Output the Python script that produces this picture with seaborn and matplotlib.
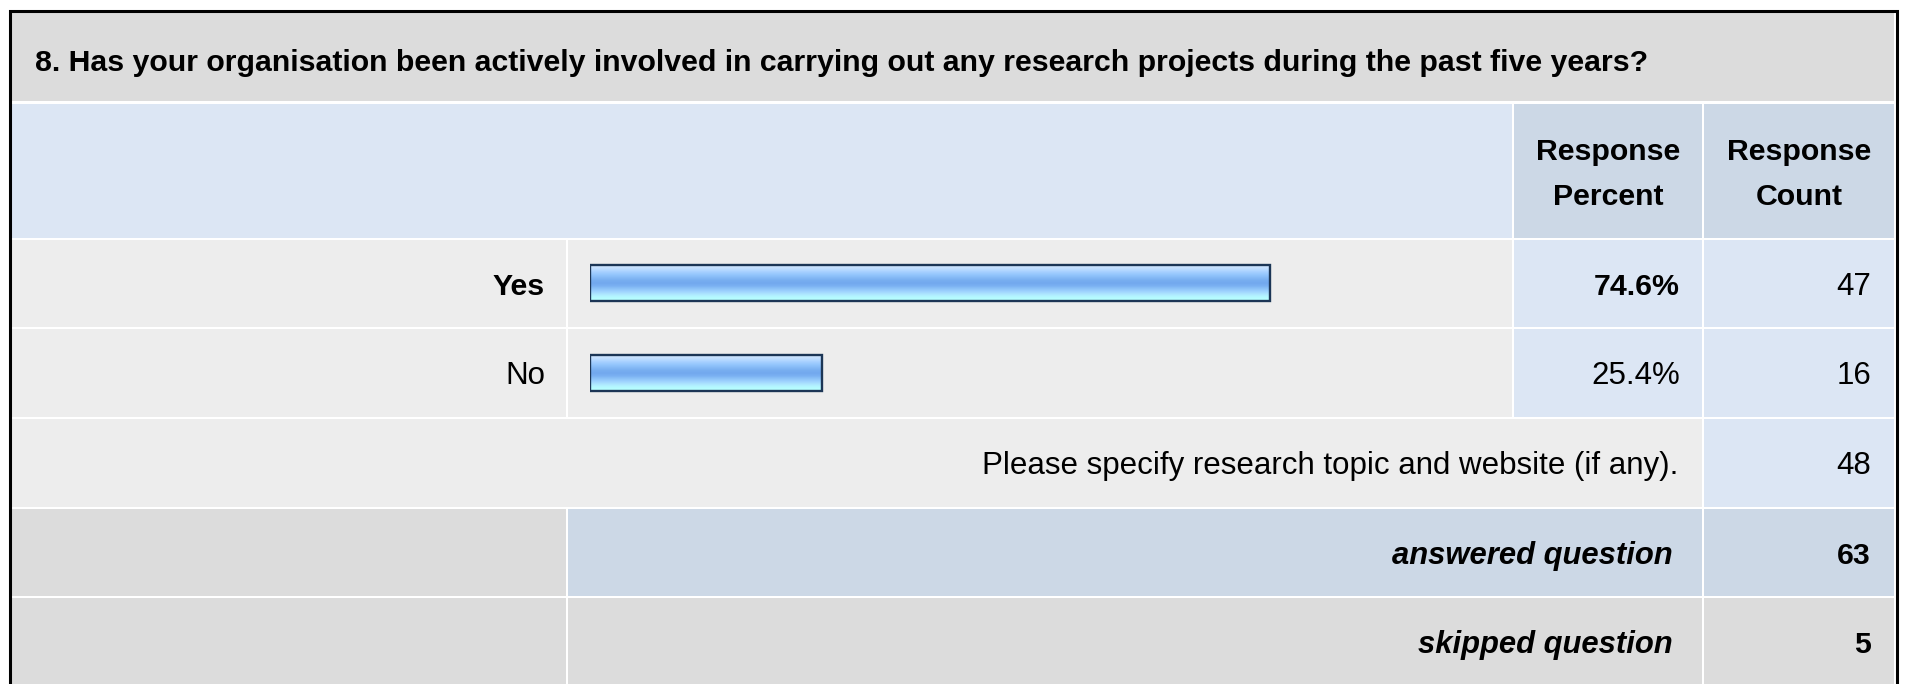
import numpy as np
import pandas as pd
import matplotlib.pyplot as plt
import seaborn as sns
from matplotlib.patches import Rectangle

# ── Data ───────────────────────────────────────────────────────────────────────
question = "8. Has your organisation been actively involved in carrying out any research projects during the past five years?"
header_labels = ["Response\nPercent", "Response\nCount"]
answer_labels = ["Yes", "No"]
answer_percent = [74.6, 25.4]
answer_count = [47, 16]
other_text = "Please specify research topic and website (if any)."
other_count = 48
summary_labels = ["answered question", "skipped question"]
summary_counts = [63, 5]

# ── Style ──────────────────────────────────────────────────────────────────────
sns.set_theme(style="white")
plt.rcParams['font.family'] = ['Liberation Sans', 'DejaVu Sans']
FS_B = 21.8    # bold text
FS_R = 22.5    # regular text
FS_I = 22.3    # bold italic summary text
W, H = 1911, 684

GRAY = '#dcdcdc'
LIGHT = '#ededed'
BLUE = '#dce6f4'
BLUE2 = '#ccd8e6'
INK = '#000000'

# column and row edges in pixels
cols = [(12, 566), (568, 1512), (1514, 1702), (1704, 1894)]
r_title, r_head = (12, 101), (104, 238)
r_ans = [(240, 327), (329, 417)]
r_other = (419, 507)
r_sum = [(509, 596), (598, 690)]

fig = plt.figure(figsize=(W / 100, H / 100), dpi=100)
ax = fig.add_axes([0, 0, 1, 1])
ax.set_xlim(0, W)
ax.set_ylim(H, 0)
ax.axis('off')


def cell(x0, x1, rows, color):
    ax.add_patch(Rectangle((x0, rows[0]), x1 - x0, rows[1] - rows[0], color=color, lw=0, zorder=1))


def base_of(rows):
    return rows[0] + 55


# ── Table cells ────────────────────────────────────────────────────────────────
cell(cols[0][0], cols[3][1], r_title, GRAY)
cell(cols[0][0], cols[1][1], r_head, BLUE)
cell(*cols[2], r_head, BLUE2)
cell(*cols[3], r_head, BLUE2)
for rows in r_ans:
    cell(*cols[0], rows, LIGHT)
    cell(*cols[1], rows, LIGHT)
    cell(*cols[2], rows, BLUE)
    cell(*cols[3], rows, BLUE)
cell(cols[0][0], cols[2][1], r_other, LIGHT)
cell(*cols[3], r_other, BLUE)
cell(*cols[0], r_sum[0], GRAY)
cell(cols[1][0], cols[2][1], r_sum[0], BLUE2)
cell(*cols[3], r_sum[0], BLUE2)
cell(*cols[0], r_sum[1], GRAY)
cell(cols[1][0], cols[2][1], r_sum[1], GRAY)
cell(*cols[3], r_sum[1], GRAY)

# outer border
ax.plot([9.5, 9.5, 1896.5, 1896.5], [H + 5, 10.5, 10.5, H + 5], color='black', lw=2.2, zorder=3,
        solid_joinstyle='miter')

# ── Texts ──────────────────────────────────────────────────────────────────────
ax.text(35, 71, question, fontsize=FS_B, fontweight='bold', color=INK, va='baseline', zorder=4)
for c, lab in zip(cols[2:], header_labels):
    for k, line in enumerate(lab.split('\n')):
        ax.text((c[0] + c[1]) / 2, 160 + 45 * k, line, fontsize=FS_B, fontweight='bold',
                ha='center', va='baseline', color=INK, zorder=4)

for i, rows in enumerate(r_ans):
    bold = answer_percent[i] == max(answer_percent)
    wt, fs = ('bold', FS_B) if bold else ('normal', FS_R)
    base = base_of(rows)
    ax.text(545, base, answer_labels[i], fontsize=fs, fontweight=wt, ha='right', va='baseline', color=INK, zorder=4)
    ax.text(1680, base, f"{answer_percent[i]:.1f}%", fontsize=fs, fontweight=wt, ha='right', va='baseline',
            color=INK, zorder=4)
    ax.text(1871, base, str(answer_count[i]), fontsize=FS_R, ha='right', va='baseline', color=INK, zorder=4)

base = base_of(r_other)
ax.text(1678, base, other_text, fontsize=FS_R, ha='right', va='baseline', color=INK, zorder=4)
ax.text(1871, base, str(other_count), fontsize=FS_R, ha='right', va='baseline', color=INK, zorder=4)

for rows, lab, n in zip(r_sum, summary_labels, summary_counts):
    base = base_of(rows)
    ax.text(1673, base, lab, fontsize=FS_I, fontweight='bold', style='italic', ha='right', va='baseline',
            color=INK, zorder=4)
    ax.text(1871, base, str(n), fontsize=FS_B, fontweight='bold', ha='right', va='baseline', color=INK, zorder=4)

# ── Bars ───────────────────────────────────────────────────────────────────────
bx0, bx1 = 590, 1502          # 0% .. 100%
by0, by1 = 238.5, 417.5       # band holding the two answer rows
bax = fig.add_axes([bx0 / W, 1 - by1 / H, (bx1 - bx0) / W, (by1 - by0) / H])
bax.patch.set_alpha(0)
df = pd.DataFrame({'answer': answer_labels, 'percent': answer_percent})
sns.barplot(data=df, x='percent', y='answer', orient='h', ax=bax, width=0.40,
            color='#8cc0f8', edgecolor='#1c3656', linewidth=1.7, saturation=1)
bax.set_xlim(0, 100)
bax.set_ylim(1.5, -0.5)
bax.axis('off')

stripes = ['#cfe6ff', '#bcdcff', '#a6d0ff', '#94c6fc', '#86baf6', '#78aef0', '#72a8ee',
           '#7ab0f2', '#8cc2f8', '#9ed2fe', '#aee6ff', '#b4f8ff', '#b8ffff']
grad = np.array([[plt.matplotlib.colors.to_rgb(c)] for c in stripes])
for p in bax.patches:
    x, y, w, h = p.get_x(), p.get_y(), p.get_width(), p.get_height()
    im = bax.imshow(grad, extent=(x, x + w, y + h, y), aspect='auto', interpolation='bilinear', zorder=2)
    im.set_clip_path(p)
    p.set_facecolor('none')
    p.set_zorder(3)
bax.set_xlim(0, 100)
bax.set_ylim(1.5, -0.5)

fig.savefig('out.png', dpi=100, facecolor='white')
